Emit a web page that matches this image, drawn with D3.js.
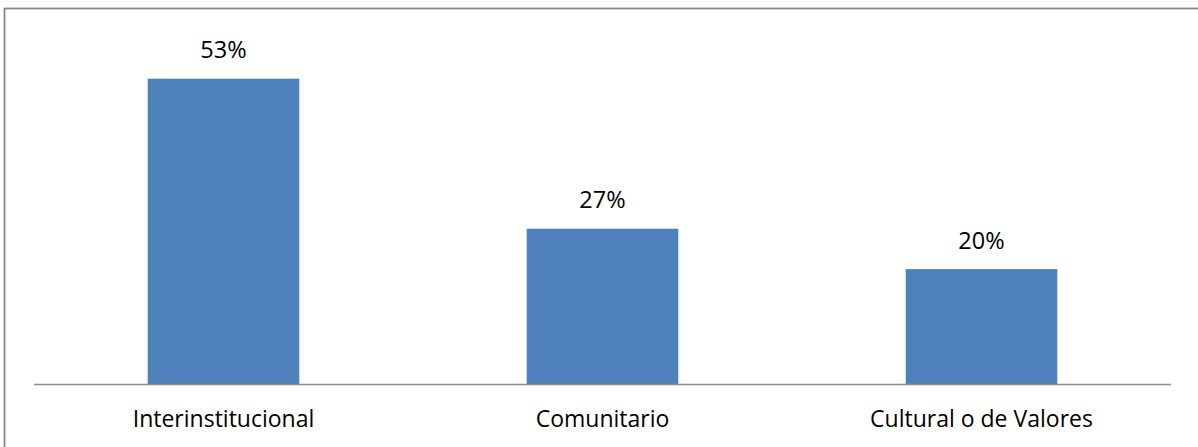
<!DOCTYPE html>
<html>
<head>
<meta charset="utf-8">
<script src="https://cdn.jsdelivr.net/npm/d3@7"></script>
<style>
  html, body { margin: 0; padding: 0; background: #fff; }
  svg { display: block; }
</style>
</head>
<body>
<svg id="chart" width="1198" height="447"></svg>
<script>
const categories = ["Interinstitucional", "Comunitario", "Cultural o de Valores"];
const values = [53, 27, 20];
const valueLabels = ["53%", "27%", "20%"];

const svg = d3.select("#chart");
const W = 1198, H = 447;
const font = "'Open Sans', sans-serif";

// outer border
svg.append("rect")
  .attr("x", 4.5).attr("y", 8.5)
  .attr("width", W + 10).attr("height", H + 10)
  .attr("fill", "none").attr("stroke", "#878787").attr("stroke-width", 1.8);

const plotLeft = 34, plotRight = 1171, baseY = 384.5;
const x = d3.scaleBand().domain(categories).range([plotLeft, plotRight]).padding(0);
const y = d3.scaleLinear().domain([0, 60]).range([baseY, baseY - 60 * 5.77]);
const barW = x.bandwidth() * 0.4;

svg.append("g").selectAll("rect").data(categories).join("rect")
  .attr("x", d => x(d) + (x.bandwidth() - barW) / 2)
  .attr("y", (d, i) => y(values[i]))
  .attr("width", barW)
  .attr("height", (d, i) => y(0) - y(values[i]))
  .attr("fill", "#4f81bd");

// axis
const axis = d3.axisBottom(x).tickSize(0).tickPadding(0);
const ag = svg.append("g").attr("transform", `translate(0,${baseY})`).call(axis);
ag.select(".domain").attr("stroke", "#8c8c8c").attr("stroke-width", 1.5)
  .attr("d", `M${plotLeft},0H${plotRight}`);
ag.selectAll(".tick text")
  .attr("y", 427 - baseY).attr("dy", 0)
  .attr("font-family", font).attr("font-size", 23).attr("fill", "#000");

// value labels
svg.append("g").selectAll("text").data(categories).join("text")
  .attr("x", d => x(d) + x.bandwidth() / 2)
  .attr("y", (d, i) => y(values[i]) - 20.5)
  .attr("text-anchor", "middle")
  .attr("font-family", font).attr("font-size", 23.5).attr("fill", "#000")
  .text((d, i) => valueLabels[i]);
</script>
</body>
</html>
